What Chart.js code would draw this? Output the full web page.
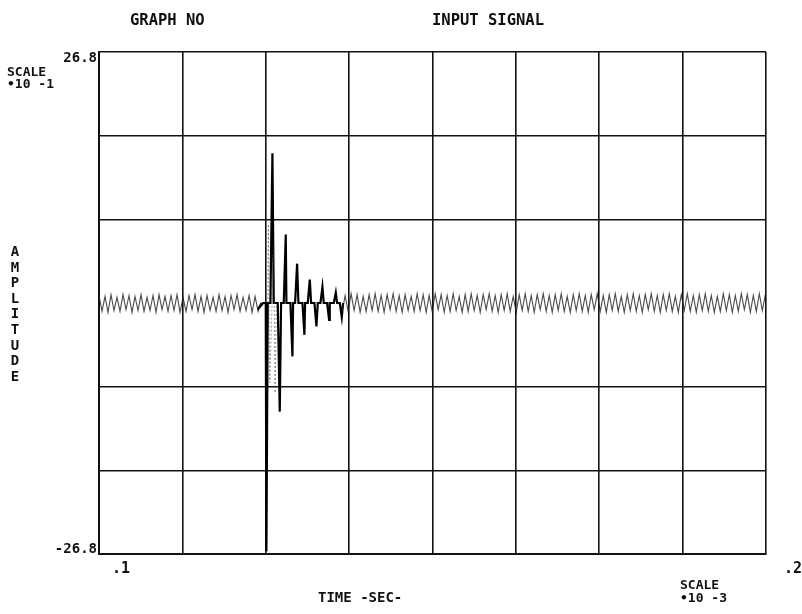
<!DOCTYPE html>
<html>
<head>
<meta charset="utf-8">
<script src="https://cdn.jsdelivr.net/npm/chart.js@4/dist/chart.umd.min.js"></script>
<style>
  html, body { margin: 0; padding: 0; background: #ffffff; }
  #wrap { width: 802px; height: 614px; }
</style>
</head>
<body>
<div id="wrap"><canvas id="c" width="802" height="614"></canvas></div>
<script>
// ---- text ----
const titleLeft = 'GRAPH NO';
const titleRight = 'INPUT SIGNAL';
const yAxisTitle = 'AMPLITUDE';
const xAxisTitle = 'TIME -SEC-';
const yScaleNote = ['SCALE', '\u202210 -1'];
const xScaleNote = ['SCALE', '\u202210 -3'];
const yTickLabels = ['26.8', '-26.8'];
const xTickLabels = ['.1', '.2'];

// ---- axes (time in units of 10^-3 sec, amplitude in units of 10^-1) ----
const xMin = 0.1, xMax = 0.2;
const yMin = -26.8, yMax = 26.8;
const xGrid = [0.1, 0.1125, 0.125, 0.1375, 0.15, 0.1625, 0.175, 0.1875, 0.2];
const yGrid = [-26.8, -17.8667, -8.9333, 8.9333, 17.8667, 26.8];

// ---- background noise, sampled every 0.00045 from t = 0.1 ----
const noiseStart = 0.1;
const noiseStep = 0.00045;
const noiseValues = [
  0.8,-0.9,0.7,-1.0,0.9,-0.8,0.6,-0.9,0.9,-0.7,
  0.8,-1.0,0.7,-0.8,0.9,-0.9,0.6,-0.8,0.8,-1.0,
  0.9,-0.7,0.7,-0.9,0.8,-0.8,0.9,-1.0,0.6,-0.9,
  0.8,-0.7,0.9,-0.9,0.7,-1.0,0.8,-0.8,0.6,-0.9,
  0.9,-0.8,0.7,-1.0,0.8,-0.7,0.9,-0.9,0.6,-0.8,
  0.8,-1.0,0.7,-0.9,0.0,
  null,null,null,null,null,null,null,null,null,null,
  null,null,null,null,null,null,null,null,null,null,
  null,null,null,null,null,null,
  -1.0,0.8,-0.9,1.0,-0.8,0.9,-1.0,0.7,-0.9,0.9,
  -0.8,1.0,-0.9,0.8,-1.0,0.9,-0.7,1.0,-0.9,0.8,
  -1.0,0.9,-0.8,0.7,-0.9,1.0,-0.8,0.9,-1.0,0.8,
  -0.9,1.0,-0.7,0.9,-1.0,0.8,-0.9,1.0,-0.8,0.7,
  -1.0,0.9,-0.9,1.0,-0.8,0.8,-1.0,0.9,-0.7,1.0,
  -0.9,0.8,-1.0,0.9,-0.8,1.0,-0.9,0.7,-1.0,0.9,
  -0.8,1.0,-0.9,0.8,-1.0,0.9,-0.7,1.0,-0.9,0.8,
  -1.0,0.9,-0.8,1.0,-0.9,0.7,-1.0,0.9,-0.8,1.0,
  -0.9,0.8,-1.0,0.9,-0.7,1.0,-0.9,0.8,-1.0,0.9,
  -0.8,1.0,-0.9,0.7,-1.0,0.9,-0.8,1.0,-0.9,0.8,
  -1.0,0.9,-0.7,1.0,-0.9,0.8,-1.0,0.9,-0.8,1.0,
  -0.9,0.7,-1.0,0.9,-0.8,1.0,-0.9,0.8,-1.0,0.9,
  -0.8,1.0,-0.9,0.8,-1.0,0.7,-0.9,1.0,-0.8,0.9,
  -1.0,0.8,-0.9,1.0,-0.7,0.9,-1.0,0.8,-0.9,1.0,
  -0.8,0.9
];

// ---- damped transient: each swing leaves the baseline, peaks and returns ----
const transientTime = [
  0.1244, 0.1238, 0.1246,
  0.1250, 0.1251, 0.1253,
  0.1257, 0.1260, 0.1262,
  0.1268, 0.1271, 0.1273,
  0.1277, 0.1280, 0.1281,
  0.1287, 0.1290, 0.1291,
  0.1294, 0.1297, 0.1299,
  0.1305, 0.1308, 0.1309,
  0.1313, 0.1316, 0.1318,
  0.1323, 0.1326, 0.1328,
  0.1332, 0.1335, 0.1337,
  0.1342, 0.1345, 0.1346,
  0.1352, 0.1355, 0.1357,
  0.1361, 0.1364, 0.1366
];
const transientValues = [
  0.0, -0.7, 0.0,
  0.0, -26.5, 0.0,
  0.0, 16.0, 0.0,
  0.0, -11.6, 0.0,
  0.0, 7.3, 0.0,
  0.0, -5.7, 0.0,
  0.0, 4.2, 0.0,
  0.0, -3.4, 0.0,
  0.0, 2.5, 0.0,
  0.0, -2.5, 0.0,
  0.0, 1.7, 0.0,
  0.0, -1.8, 0.0,
  0.0, 1.1, 0.0,
  0.0, -1.5, 0.0
];

// ---- faint secondary sweep (dotted strokes) ----
const echoTime   = [0.1253, 0.1254, 0.1256, 0.1262, 0.1264, 0.1266];
const echoValues = [0.0,    8.4,   -8.5,    6.0,   -9.6,    0.0];

const noisePoints = noiseValues.map((v, i) => ({ x: noiseStart + i * noiseStep, y: v }));
const zip = (t, v) => t.map((x, i) => ({ x: x, y: v[i] }));

const textPlugin = {
  id: 'plotterText',
  afterDraw(chart) {
    const ctx = chart.ctx;
    const a = chart.chartArea;
    ctx.save();
    ctx.fillStyle = '#111';
    ctx.textBaseline = 'alphabetic';
    const f = (s) => 'bold ' + s + 'px "DejaVu Sans Mono", monospace';

    ctx.font = f(15.5);
    ctx.textAlign = 'left';
    ctx.fillText(titleLeft, 130, 25);
    ctx.fillText(titleRight, 432, 25);

    // y tick labels
    ctx.font = f(14);
    ctx.textAlign = 'right';
    ctx.fillText(yTickLabels[0], a.left - 2, a.top + 10);
    ctx.fillText(yTickLabels[1], a.left - 2, a.bottom - 1);

    // y scale note
    ctx.font = f(13);
    ctx.textAlign = 'left';
    ctx.fillText(yScaleNote[0], 7, 76);
    ctx.fillText(yScaleNote[1], 7, 88);

    // vertical amplitude label, stacked letters
    ctx.font = f(14);
    ctx.textAlign = 'center';
    for (let i = 0; i < yAxisTitle.length; i++) {
      ctx.fillText(yAxisTitle[i], 15, 256 + i * 15.6);
    }

    // x tick labels
    ctx.font = f(15);
    ctx.textAlign = 'left';
    ctx.fillText(xTickLabels[0], 112, 573);
    ctx.fillText(xTickLabels[1], 784, 573);

    // x axis title
    ctx.font = f(14);
    ctx.fillText(xAxisTitle, 318, 602);

    // x scale note
    ctx.font = f(13);
    ctx.fillText(xScaleNote[0], 680, 589);
    ctx.fillText(xScaleNote[1], 680, 602);
    ctx.restore();
  }
};

new Chart(document.getElementById('c'), {
  type: 'line',
  data: {
    datasets: [
      { label: 'noise', data: noisePoints, borderColor: 'rgba(30,30,30,0.8)', borderWidth: 1.1, pointRadius: 0, tension: 0, spanGaps: false },
      { label: 'echo', data: zip(echoTime, echoValues), borderColor: 'rgba(60,60,60,0.5)', borderWidth: 1, borderDash: [2, 2], pointRadius: 0, tension: 0 },
      { label: 'transient', data: zip(transientTime, transientValues), borderColor: '#000', borderWidth: 2.2, pointRadius: 0, tension: 0 }
    ]
  },
  options: {
    responsive: false,
    animation: false,
    events: [],
    layout: { padding: { left: 99, right: 36, top: 52, bottom: 60 } },
    plugins: { legend: { display: false }, tooltip: { enabled: false }, title: { display: false } },
    scales: {
      x: {
        type: 'linear', min: xMin, max: xMax,
        afterBuildTicks: (s) => { s.ticks = xGrid.map(v => ({ value: v })); },
        ticks: { display: false },
        grid: { color: '#111', lineWidth: 1.6, drawTicks: false },
        border: { display: true, color: '#111', width: 2 }
      },
      y: {
        type: 'linear', min: yMin, max: yMax,
        afterBuildTicks: (s) => { s.ticks = yGrid.map(v => ({ value: v })); },
        ticks: { display: false },
        grid: { color: '#111', lineWidth: 1.6, drawTicks: false },
        border: { display: true, color: '#111', width: 2 }
      }
    }
  },
  plugins: [textPlugin]
});
</script>
</body>
</html>
